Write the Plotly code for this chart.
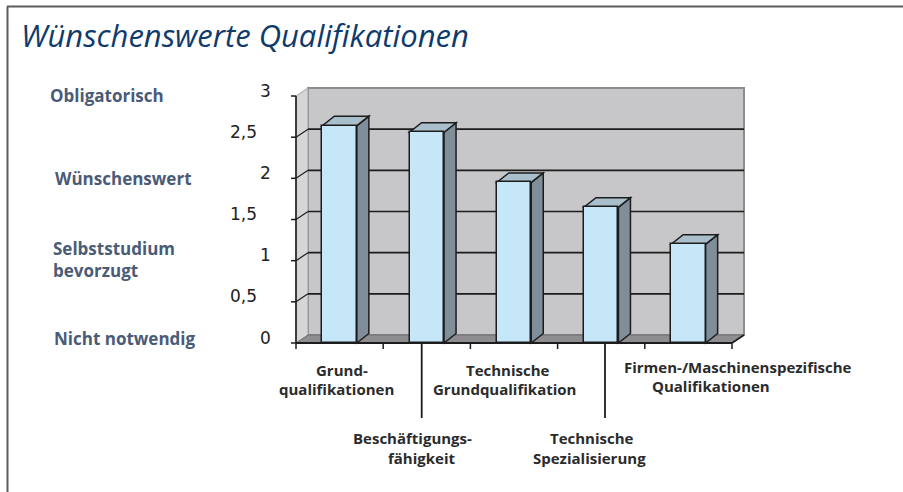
import plotly.graph_objects as go

# ---- data ---------------------------------------------------------------
categories = [
    "Grundqualifikationen",
    "Beschäftigungsfähigkeit",
    "Technische Grundqualifikation",
    "Technische Spezialisierung",
    "Firmen-/Maschinenspezifische Qualifikationen",
]
values = [2.64, 2.56, 1.95, 1.65, 1.20]

tick_values = [0, 0.5, 1, 1.5, 2, 2.5, 3]
tick_text = ["0", "0,5", "1", "1,5", "2", "2,5", "3"]

level_values = [3, 2, 1, 0]
level_text = ["Obligatorisch", "Wünschenswert", "Selbststudium<br>bevorzugt", "Nicht notwendig"]

# category label lines (drawn below the axis)
label_lines = [
    ["Grund-", "qualifikationen"],
    ["Beschäftigungs-", "fähigkeit"],
    ["Technische", "Grundqualifikation"],
    ["Technische", "Spezialisierung"],
    ["Firmen-/Maschinenspezifische", "Qualifikationen"],
]

# ---- geometry -----------------------------------------------------------
W, H = 903, 492
X0_PX, Y0_PX = 296, 343        # pixel position of the chart origin
PX_X, PX_Y = 87.2, 82.33       # pixels per category / per value unit

def xd(px):
    return (px - X0_PX) / PX_X

def yd(py):
    return (Y0_PX - py) / PX_Y

DX = 12 / PX_X                 # depth of the 3-D box
DY = 8 / PX_Y
BDY = 9.5 / PX_Y               # depth of the bars
BAR_W = 34.5 / PX_X
N = len(categories)
YMAX = 3
centers = [i + 0.5 for i in range(N)]

BLACK = "#1c1c1c"
shapes = []

def poly(pts, fill, line=None, width=1.5, layer="below"):
    d = "M " + " L ".join(f"{x:.5f},{y:.5f}" for x, y in pts) + " Z"
    shapes.append(dict(type="path", path=d, xref="x", yref="y", layer=layer,
                       fillcolor=fill,
                       line=dict(color=line or fill, width=width if line else 0)))

def seg(x0, y0, x1, y1, color=BLACK, width=1.5, layer="below"):
    shapes.append(dict(type="line", xref="x", yref="y", x0=x0, y0=y0, x1=x1, y1=y1,
                       layer=layer, line=dict(color=color, width=width)))

# walls and floor
poly([(DX, DY), (N + DX, DY), (N + DX, YMAX + DY), (DX, YMAX + DY)], "#c7c7c9", "#8d8d8f", 2)
poly([(0, 0), (0, YMAX), (DX, YMAX + DY), (DX, DY)], "#d6d6d8", "#a0a0a2", 1)
poly([(0, 0), (N, 0), (N + DX, DY), (DX, DY)], "#8e8e90", "#6e6e70", 1)

# gridlines on the back wall with their diagonals across the side wall
for v in tick_values[1:-1]:
    seg(DX, v + DY, N + DX, v + DY, width=1.6)
    seg(0, v, DX, v + DY, width=1.2)

# 3-D faces of the bars
for c, v in zip(centers, values):
    x0, x1 = c - BAR_W / 2, c + BAR_W / 2
    poly([(x1, 0), (x1, v), (x1 + DX, v + BDY), (x1 + DX, BDY)], "#7f8e98", BLACK, 1.5)
    poly([(x0, v), (x1, v), (x1 + DX, v + BDY), (x0 + DX, v + BDY)], "#a9c0cc", BLACK, 1.5)

# axes
seg(0, 0, 0, YMAX, width=1.6, layer="above")
seg(0, 0, N, 0, width=2.2, layer="above")
seg(N, 0, N + DX, DY, width=1.6, layer="above")
for v in tick_values:
    seg(xd(X0_PX - 5), v, 0, v, width=1.5, layer="above")
for i in range(N + 1):
    seg(i, 0, i, yd(Y0_PX + 6), width=1.5, layer="above")

# leader lines for the lower label row
leader_x = [xd(421.7), xd(605)]
for lx in leader_x:
    seg(lx, 0, lx, yd(418), width=1.8, layer="above")

# frame
shapes.append(dict(type="line", xref="paper", yref="paper", x0=7 / W, x1=1, y0=1 - 6.5 / H, y1=1 - 6.5 / H,
                   line=dict(color="#5c5c5c", width=2)))
shapes.append(dict(type="line", xref="paper", yref="paper", x0=7.5 / W, x1=7.5 / W, y0=0, y1=1 - 6.5 / H,
                   line=dict(color="#5c5c5c", width=2)))

# ---- traces -------------------------------------------------------------
fig = go.Figure(go.Bar(
    x=centers, y=values, width=BAR_W,
    marker=dict(color="#c6e7f7", line=dict(color=BLACK, width=1.5)),
    hoverinfo="skip", showlegend=False,
))

# ---- annotations ----------------------------------------------------------
ann = []
TICK_FONT = dict(family="DejaVu Sans", size=17, color="#222222")
for v, t in zip(tick_values, tick_text):
    right = 273 if float(v).is_integer() else 258.5
    ann.append(dict(x=xd(right), y=v + 5.5 / PX_Y, xref="x", yref="y", text=t,
                    showarrow=False, xanchor="right", yanchor="middle", font=TICK_FONT))

LEVEL_FONT = dict(family="Open Sans", size=17, color="#4a5b77", weight="bold")
level_left = [48, 53, 51, 52]
level_shift = [1, 0, 1, 5]
for v, t, lx, sh in zip(level_values, level_text, level_left, level_shift):
    ann.append(dict(x=xd(lx), y=v + sh / PX_Y, xref="x", yref="y", text=t, align="left",
                    showarrow=False, xanchor="left", yanchor="middle", font=LEVEL_FONT))

CAT_FONT = dict(family="Open Sans", size=15, color="#2b2b2b", weight="bold")
# per-line centre pixel positions for each category label
line_pos = [
    [(341.5, 369.5), (336, 389)],
    [(412, 437.5), (421.5, 457.5)],
    [(508, 369.5), (504.5, 389)],
    [(592, 437.5), (589, 457.5)],
    [(737.5, 367), (710.5, 386)],
]
for lines, pos in zip(label_lines, line_pos):
    for text, (px, py) in zip(lines, pos):
        ann.append(dict(x=xd(px), y=yd(py), xref="x", yref="y", text=text,
                        showarrow=False, xanchor="center", yanchor="middle", font=CAT_FONT))

fig.update_layout(
    width=W, height=H,
    margin=dict(l=0, r=0, t=0, b=0),
    paper_bgcolor="white", plot_bgcolor="white",
    title=dict(text="Wünschenswerte Qualifikationen", x=21 / W, xanchor="left",
               y=1 - 36 / H, yanchor="middle", yref="container",
               font=dict(family="Open Sans", size=31, color="#0f3b6c", style="italic")),
    xaxis=dict(range=[xd(0), xd(W)], visible=False, fixedrange=True),
    yaxis=dict(range=[yd(H), yd(0)], visible=False, fixedrange=True),
    shapes=shapes, annotations=ann, bargap=0,
)

fig.write_html("out.html")
